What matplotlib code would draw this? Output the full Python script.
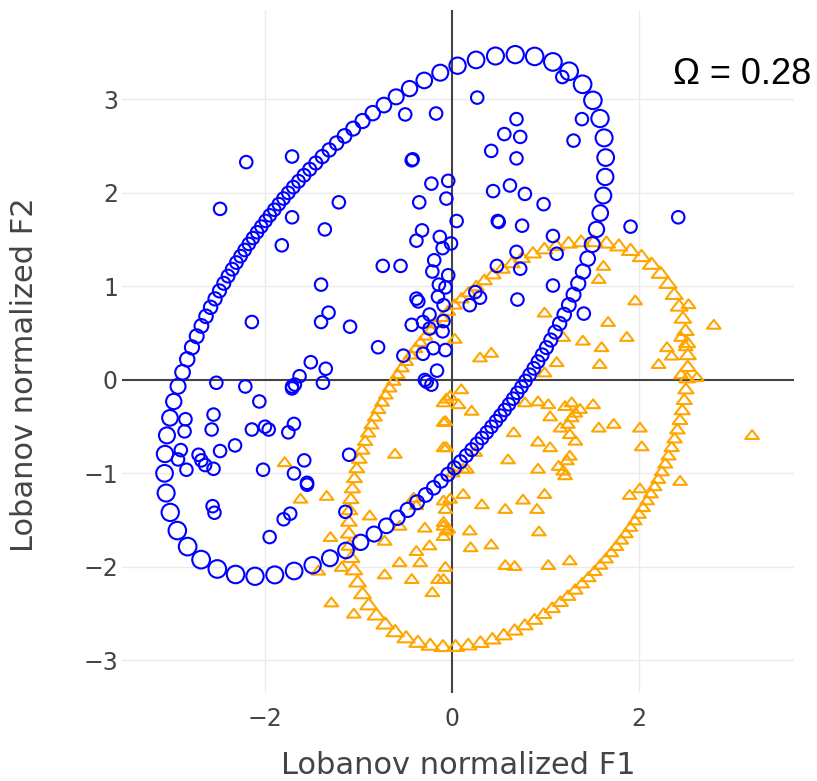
import numpy as np
import matplotlib
matplotlib.use("Agg")
import matplotlib.pyplot as plt
from matplotlib.path import Path

# Scatter data (Lobanov normalized F1 / F2)
blue_f1 = [-2.20, -1.71, -2.48, -1.21, -1.36, -1.82, -1.71, -0.50, -0.17, -0.43, -0.42, -0.22,
           -0.04, -0.35, -0.06, 0.05, -0.32, -0.38, -0.13, -0.01, -0.10, -0.74, -0.55, -0.19,
           -0.21, -0.04, -1.40, -0.14, -0.07, -0.38, -0.36, -0.15, -0.09, -1.32, -1.40, -2.14,
           -1.09, -0.43, -0.31, -0.24, -0.09, -0.24, -0.10, -0.79, -0.52, -0.31, -0.20, -1.51,
           -1.35, -1.63, -0.16, -1.38, -2.52, -2.21, -1.71, -0.29,
           0.27, 0.69, 0.56, 0.73, 0.42, 0.69, 1.39, 1.30, 1.18, 0.44, 0.62, 0.78, 0.98, 0.50,
           0.49, 0.75, 1.08, 1.91, 2.42, 0.69, 1.12, 0.48, 0.73, 1.08, 0.25, 0.30, 0.19, 0.70,
           1.41, -0.07,
           -2.06, -1.68, -1.71, -2.55, -2.57, -2.14, -2.00, -1.96, -1.75, -1.69, -2.86, -2.32,
           -2.48, -2.71, -2.68, -2.64, -2.55, -2.84, -2.02, -1.58, -1.69, -1.55, -1.55, -1.10,
           -1.14, -1.80, -1.73, -1.95, -2.56, -2.54, -0.27, -0.22, -2.85, -2.90, -2.93]
blue_f2 = [2.33, 2.39, 1.83, 1.90, 1.61, 1.44, 1.74, 2.84, 2.85, 2.35, 2.36, 2.10,
           2.13, 1.90, 1.94, 1.70, 1.60, 1.49, 1.53, 1.46, 1.41, 1.22, 1.22, 1.28,
           1.16, 1.12, 1.02, 1.02, 0.99, 0.87, 0.84, 0.89, 0.80, 0.72, 0.62, 0.62,
           0.57, 0.59, 0.62, 0.70, 0.63, 0.55, 0.52, 0.35, 0.26, 0.28, 0.34, 0.19,
           0.12, 0.04, 0.10, -0.03, -0.03, -0.07, -0.07, 0.00,
           3.02, 2.79, 2.63, 2.60, 2.45, 2.37, 2.79, 2.56, 3.24, 2.02, 2.08, 1.99, 1.88, 1.69,
           1.70, 1.65, 1.54, 1.64, 1.74, 1.37, 1.35, 1.22, 1.19, 1.01, 0.94, 0.88, 0.80, 0.86,
           0.71, 0.32,
           -0.23, -0.05, -0.09, -0.37, -0.53, -0.53, -0.50, -0.53, -0.56, -0.47, -0.55, -0.70,
           -0.76, -0.80, -0.86, -0.91, -0.95, -0.96, -0.96, -0.86, -1.00, -1.10, -1.12, -0.80,
           -1.41, -1.49, -1.43, -1.68, -1.35, -1.42, -0.02, -0.05, -0.42, -0.75, -0.85]

orange_f1 = [1.62, 1.57, 1.96, 1.67, 1.87, 2.80, 2.53, 1.40, 1.60, 1.58, 1.19, 0.99, 0.03,
             0.30, 0.42, 0.99, 1.12, 2.30, 2.21, 2.35, 2.45, 2.50, 2.62, 2.45,
             0.10, -0.06, 0.07, 0.21, -0.07, 0.78, 0.92, 1.03, 1.05, 1.21, 1.28, 1.37, 1.32,
             1.28, 1.51, 1.16, 1.24, 1.26, 1.32, 1.57, 1.73, 2.01, 2.03, 0.66, 0.92, 1.05,
             -0.06, 0.25, 0.60, 1.26, 1.23, 1.14, 1.19, 1.21, 0.92, 0.16, 3.21, 2.44, 1.90,
             2.01, 0.12, 0.32, 0.57, 0.76, 0.99, 0.91, -0.07, -0.09, -0.04, -0.09, 0.19, 0.93,
             0.20, 0.42, 0.57, 0.67, 1.03, 1.26, -0.07, -0.09,
             -1.79, -1.62, -1.34, -1.30, -1.43, -1.29, -1.05, -0.88, -0.61, -0.72, -0.56,
             -0.29, -0.09, -0.06, -0.24, -0.38, -0.34, -0.56, -0.72, -0.43, -0.15, -0.21,
             -1.18, -0.09, -0.09, -0.02, -0.09, 0.01, 0.12, -0.38, -0.41, -0.09, -0.02]
orange_f2 = [1.21, 1.07, 0.84, 0.61, 0.45, 0.58, 0.80, 0.41, 0.34, 0.16, 0.45, 0.71, 0.43,
             0.23, 0.28, 0.07, 0.18, 0.34, 0.16, 0.25, 0.45, 0.35, 0.02, 0.05,
             -0.11, -0.21, -0.27, -0.34, -0.45, -0.25, -0.24, -0.27, -0.40, -0.29, -0.25, -0.32,
             -0.36, -0.41, -0.27, -0.52, -0.48, -0.59, -0.66, -0.52, -0.48, -0.52, -0.72, -0.57,
             -0.67, -0.73, -0.73, -0.78, -0.86, -0.82, -0.87, -0.93, -0.98, -1.03, -0.96, -0.96,
             -0.60, -1.09, -1.24, -1.17, -1.23, -1.34, -1.39, -1.29, -1.23, -1.39, -1.39, -1.53,
             -1.60, -1.68, -1.62, -1.63, -1.80, -1.77, -1.99, -2.00, -1.99, -1.94, -2.01, -2.14,
             -0.89, -1.28, -1.25, -1.69, -2.05, -2.39, -2.51, -1.46, -0.80, -1.73, -1.57,
             -1.59, -1.57, -1.62, -1.78, -1.84, -1.96, -1.96, -2.09, -2.14, -2.14, -2.28,
             -2.01, -0.46, -0.25, -0.18, -0.73, -1.00, -0.96, -1.35, -1.27, -1.30, -1.28]

# Confidence ellipses: centre x, centre y, semi-major, semi-minor, angle (deg), markers
blue_ellipse = [-0.715, 0.69, 3.27, 1.63, 53.0, 118]
orange_ellipse = [0.71, -0.695, 2.40, 1.49, 56.7, 112]

x_ticks = [-2, 0, 2]
y_ticks = [-3, -2, -1, 0, 1, 2, 3]
omega_text = "Ω = 0.28"


def ellipse_markers(cx, cy, a, b, angle, n, q=0.0):
    # markers around the ellipse; q > 0 packs them tighter along the long sides
    t = np.linspace(0, 2 * np.pi, n, endpoint=False)
    psi = np.arctan2((a / b) ** q * np.sin(t), np.cos(t))
    r = a * b / np.sqrt((b * np.cos(psi)) ** 2 + (a * np.sin(psi)) ** 2)
    phi = psi + np.deg2rad(angle)
    return cx + r * np.cos(phi), cy + r * np.sin(phi), np.sqrt(r / b)


# plotly-like "triangle-up-open"
tri = Path([(-1.155, -0.5), (1.155, -0.5), (0.0, 1.0), (-1.155, -0.5)],
           [Path.MOVETO, Path.LINETO, Path.LINETO, Path.CLOSEPOLY])

BLUE = "#0000ff"
ORANGE = "#ffa500"
GREY = "#444444"

fig = plt.figure(figsize=(8.17, 7.81), dpi=100)
ax = fig.add_axes([122 / 817, 1 - 693 / 781, 672 / 817, 683 / 781])
ax.set_xlim(-3.529, 3.658)
ax.set_ylim(-3.348, 3.957)

# grid and zero lines
for xv in x_ticks:
    if xv != 0:
        ax.axvline(xv, color="#ebebeb", lw=1.0, zorder=0)
for yv in y_ticks:
    if yv != 0:
        ax.axhline(yv, color="#ebebeb", lw=1.0, zorder=0)
ax.axhline(0, color=GREY, lw=1.5, zorder=1)
ax.axvline(0, color=GREY, lw=1.5, zorder=1)

# orange group
ox, oy, osz = ellipse_markers(*orange_ellipse)
ax.scatter(orange_f1, orange_f2, s=9.8 ** 2, marker=tri, facecolors="none",
           edgecolors=ORANGE, linewidths=1.5, zorder=2)
ax.scatter(ox, oy, s=(9.8 * osz) ** 2, marker=tri, facecolors="none",
           edgecolors=ORANGE, linewidths=1.5, zorder=2)

# blue group
bx, by, bsz = ellipse_markers(*blue_ellipse, q=0.2)
ax.scatter(blue_f1, blue_f2, s=9.0 ** 2, marker="o", facecolors="none",
           edgecolors=BLUE, linewidths=1.5, zorder=3)
ax.scatter(bx, by, s=(9.0 * bsz) ** 2, marker="o", facecolors="none",
           edgecolors=BLUE, linewidths=1.5, zorder=3)

for sp in ax.spines.values():
    sp.set_visible(False)
ax.set_xticks(x_ticks)
ax.set_yticks(y_ticks)
ax.tick_params(length=0, labelsize=17, labelcolor=GREY)
ax.tick_params(axis="x", pad=10)
ax.tick_params(axis="y", pad=3)
for lab in ax.get_xticklabels() + ax.get_yticklabels():
    lab.set_fontfamily("DejaVu Sans")

fig.text(458 / 817, 1 - 765 / 781, "Lobanov normalized F1", ha="center", va="center",
         fontsize=22, color=GREY, family="DejaVu Sans")
fig.text(25 / 817, 1 - 375 / 781, "Lobanov normalized F2", ha="center", va="center",
         rotation=90, fontsize=22, color=GREY, family="DejaVu Sans")
fig.text(742 / 817, 1 - 75 / 781, omega_text, ha="center", va="center",
         fontsize=26, color="black", family="Liberation Sans")

fig.savefig("out.png", dpi=100)
